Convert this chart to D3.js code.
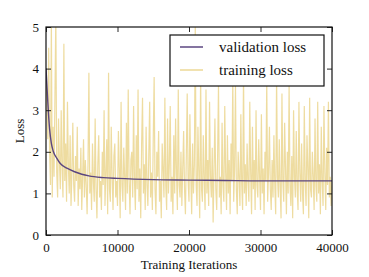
<!DOCTYPE html>
<html>
<head>
<meta charset="utf-8">
<script src="https://cdn.jsdelivr.net/npm/d3@7"></script>
<style>
  body { margin: 0; background: #fff; }
  text { font-family: "Liberation Serif", "DejaVu Serif", serif; fill: #111; }
</style>
</head>
<body>
<svg width="369" height="277"></svg>
<script>
// training loss, sampled every 125 iterations
var trainStep = 125;
var trainLoss = [
  4.0, 3.1, 2.3, 4.5, 2.0, 1.2, 5.2, 0.9, 2.6, 1.4, 3.3, 5.3, 1.5, 0.9, 2.8, 1.8,
  1.1, 3.0, 1.6, 0.9, 4.6, 1.3, 2.2, 0.8, 3.2, 1.7, 1.0, 2.4, 0.7, 1.5, 2.7, 1.2,
  0.8, 1.9, 1.3, 2.6, 0.7, 1.6, 1.1, 2.1, 0.6, 1.4, 2.3, 0.9, 1.8, 1.2, 0.5, 1.7,
  3.9, 1.0, 1.5, 0.6, 2.2, 1.3, 0.8, 2.8, 1.1, 0.4, 1.7, 2.4, 0.9, 1.3, 0.6, 2.0,
  1.2, 3.0, 0.7, 1.5, 2.3, 0.5, 3.9, 1.1, 0.8, 2.6, 1.4, 0.6, 1.9, 2.2, 0.9, 1.3,
  0.7, 2.5, 1.6, 0.4, 3.2, 1.2, 0.8, 2.1, 1.4, 0.6, 2.7, 1.0, 3.5, 1.3, 0.5, 1.8,
  2.0, 0.9, 3.1, 1.3, 0.6, 2.4, 1.1, 3.5, 0.8, 1.6, 0.4, 2.2, 3.3, 1.0, 1.7, 0.6,
  2.6, 1.2, 0.7, 1.9, 3.2, 0.9, 1.5, 0.6, 2.3, 3.8, 1.1, 0.5, 2.0, 1.4, 2.5, 0.8,
  1.3, 0.4, 2.2, 1.6, 0.9, 3.3, 1.2, 0.6, 2.8, 1.0, 1.7, 3.1, 0.8, 1.4, 0.5, 2.4,
  1.0, 2.8, 1.5, 0.6, 3.5, 1.2, 0.9, 2.0, 0.7, 1.6, 2.5, 1.1, 0.5, 1.9, 3.4, 1.3,
  0.8, 2.9, 1.4, 0.5, 2.2, 1.0, 1.7, 5.0, 1.2, 0.7, 2.6, 1.5, 0.4, 3.9, 1.1, 0.8,
  2.4, 1.3, 0.6, 3.5, 1.0, 1.8, 0.7, 3.2, 1.4, 0.9, 2.1, 0.3, 1.6, 2.8, 1.1, 0.6,
  1.9, 3.6, 0.9, 1.4, 0.5, 2.7, 1.2, 0.8, 3.1, 1.5, 0.6, 2.4, 1.0, 1.8, 0.5, 2.2,
  1.3, 3.8, 0.8, 1.6, 3.6, 1.1, 0.5, 2.0, 1.4, 0.7, 2.9, 1.2, 0.6, 3.9, 1.0, 1.7,
  0.7, 2.2, 1.3, 0.8, 3.2, 1.5, 0.5, 2.6, 1.1, 1.8, 0.6, 3.0, 1.2, 0.9, 2.3, 1.4,
  0.6, 2.9, 1.0, 1.6, 0.5, 2.0, 1.3, 3.7, 0.8, 1.5, 2.6, 1.1, 0.6, 1.8, 0.9, 2.4,
  1.2, 0.5, 3.8, 1.4, 0.9, 2.3, 1.1, 0.4, 3.4, 1.3, 0.8, 2.7, 1.6, 0.5, 2.0, 1.0,
  3.6, 1.2, 0.7, 1.9, 0.4, 3.0, 1.4, 0.9, 2.5, 1.1, 0.6, 3.2, 1.5, 0.8, 2.2, 1.0,
  0.5, 3.1, 1.3, 0.7, 2.4, 1.6, 0.4, 3.3, 1.1, 0.9, 2.0, 1.4, 0.6, 2.8, 1.2, 0.8,
  3.2, 1.0, 1.7, 0.5, 2.6, 1.3, 0.7, 3.1, 1.5, 0.6, 2.1, 1.2, 3.2, 0.9, 1.4, 0.7,
  1.3
];

var valIters = [0, 250, 500, 750, 1000, 1500, 2000, 3000, 4000, 5000, 6000, 8000, 10000, 15000, 20000, 25000, 30000, 35000, 40000];
var valLoss  = [4.0, 3.2, 2.55, 2.2, 2.02, 1.85, 1.72, 1.6, 1.52, 1.46, 1.42, 1.38, 1.36, 1.33, 1.32, 1.31, 1.30, 1.30, 1.30];

var xTicks = [0, 10000, 20000, 30000, 40000];
var yTicks = [0, 1, 2, 3, 4, 5];
var legendLabels = ['validation loss', 'training loss'];
var colors = ['#5b4680', '#ecd896'];

var svg = d3.select('svg'),
  m = {left: 46, top: 27, right: 332, bottom: 235};

var x = d3.scaleLinear().domain([0, 40000]).range([m.left, m.right]);
var y = d3.scaleLinear().domain([0, 5]).range([m.bottom, m.top]);

svg.append('clipPath').attr('id', 'clip')
  .append('rect')
  .attr('x', m.left).attr('y', m.top)
  .attr('width', m.right - m.left).attr('height', m.bottom - m.top);

var plot = svg.append('g').attr('clip-path', 'url(#clip)');

// training loss
plot.append('path')
  .datum(trainLoss)
  .attr('fill', 'none')
  .attr('stroke', colors[1])
  .attr('stroke-opacity', 0.9)
  .attr('stroke-width', 1.2)
  .attr('d', d3.line()
    .x(function(d, i) { return x(i * trainStep); })
    .y(function(d) { return y(d); }));

// validation loss
plot.append('path')
  .datum(valIters.map(function(it, i) { return [it, valLoss[i]]; }))
  .attr('fill', 'none')
  .attr('stroke', colors[0])
  .attr('stroke-width', 1.4)
  .attr('d', d3.line().curve(d3.curveMonotoneX)
    .x(function(d) { return x(d[0]); })
    .y(function(d) { return y(d[1]); }));

// axes, ticks pointing inward on all four sides
function styleAxis(g) {
  g.select('.domain').remove();
  g.selectAll('line').attr('stroke', '#111').attr('stroke-width', 0.9);
  g.selectAll('text').style('font-size', '13px').style('font-family', '"Liberation Serif", serif');
}

svg.append('g')
  .attr('transform', 'translate(0,' + m.bottom + ')')
  .call(d3.axisBottom(x).tickValues(xTicks).tickSize(-5).tickPadding(8).tickFormat(d3.format('d')))
  .call(styleAxis);

svg.append('g')
  .attr('transform', 'translate(0,' + m.top + ')')
  .call(d3.axisTop(x).tickValues(xTicks).tickSize(-5).tickFormat(''))
  .call(styleAxis);

svg.append('g')
  .attr('transform', 'translate(' + m.left + ',0)')
  .call(d3.axisLeft(y).tickValues(yTicks).tickSize(-5).tickPadding(7).tickFormat(d3.format('d')))
  .call(styleAxis);

svg.append('g')
  .attr('transform', 'translate(' + m.right + ',0)')
  .call(d3.axisRight(y).tickValues(yTicks).tickSize(-5).tickFormat(''))
  .call(styleAxis);

// frame
svg.append('rect')
  .attr('x', m.left).attr('y', m.top)
  .attr('width', m.right - m.left).attr('height', m.bottom - m.top)
  .attr('fill', 'none').attr('stroke', '#111').attr('stroke-width', 1.2);

// axis labels
svg.append('text')
  .attr('x', (m.left + m.right) / 2).attr('y', 269)
  .attr('text-anchor', 'middle')
  .style('font-size', '13px')
  .text('Training Iterations');

svg.append('text')
  .attr('transform', 'translate(24,' + ((m.top + m.bottom) / 2) + ') rotate(-90)')
  .attr('text-anchor', 'middle')
  .style('font-size', '13px')
  .text('Loss');

// legend
var lg = svg.append('g');
lg.append('rect')
  .attr('x', 170).attr('y', 35).attr('width', 154).attr('height', 51)
  .attr('fill', '#fff').attr('stroke', '#111').attr('stroke-width', 1.2);

lg.selectAll('.item')
  .data(legendLabels)
  .enter().append('g')
  .attr('class', 'item')
  .attr('transform', function(d, i) { return 'translate(0,' + (47 + i * 23) + ')'; })
  .each(function(d, i) {
    var g = d3.select(this);
    g.append('line')
      .attr('x1', 180).attr('x2', 203)
      .attr('stroke', colors[i]).attr('stroke-width', 1.5);
    g.append('text')
      .attr('x', 219).attr('dy', '0.33em')
      .style('font-size', '15px')
      .text(d);
  });
</script>
</body>
</html>
